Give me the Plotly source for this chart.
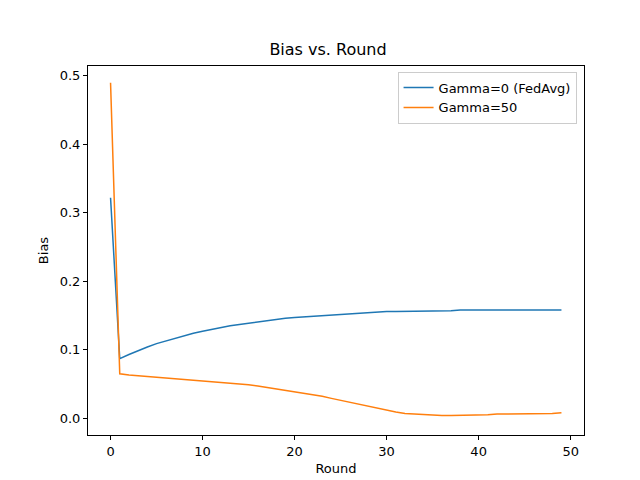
import plotly.graph_objects as go

rounds = list(range(50))
bias_fedavg = [0.322, 0.087, 0.093, 0.099, 0.104, 0.109, 0.113, 0.117, 0.121, 0.124,
               0.127, 0.130, 0.133, 0.135, 0.137, 0.139, 0.141, 0.143, 0.144, 0.146,
               0.147, 0.148, 0.149, 0.150, 0.151, 0.152, 0.153, 0.154, 0.155, 0.155,
               0.156, 0.156, 0.156, 0.157, 0.157, 0.157, 0.157, 0.157, 0.158, 0.158,
               0.158, 0.158, 0.158, 0.158, 0.158, 0.158, 0.158, 0.158, 0.158, 0.158]
bias_gamma50 = [0.490, 0.065, 0.063, 0.062, 0.061, 0.060, 0.059, 0.058, 0.057, 0.056,
                0.055, 0.054, 0.053, 0.052, 0.050, 0.049, 0.047, 0.045, 0.043, 0.041,
                0.039, 0.037, 0.034, 0.032, 0.029, 0.026, 0.023, 0.020, 0.017, 0.014,
                0.011, 0.009, 0.007, 0.006, 0.005, 0.004, 0.004, 0.004, 0.004, 0.005,
                0.005, 0.005, 0.006, 0.006, 0.006, 0.007, 0.007, 0.007, 0.007, 0.008]

fig = go.Figure()
fig.add_trace(go.Scatter(x=rounds, y=bias_fedavg, mode="lines", name="Gamma=0 (FedAvg)",
                         line=dict(color="#1f77b4", width=1.5)))
fig.add_trace(go.Scatter(x=rounds, y=bias_gamma50, mode="lines", name="Gamma=50",
                         line=dict(color="#ff7f0e", width=1.5)))

axis = dict(showgrid=False, zeroline=False, showline=True, linecolor="black", mirror=True,
            ticks="outside", ticklen=4, tickcolor="black", tickfont=dict(size=13))
fig.update_layout(
    width=640, height=480, plot_bgcolor="white", paper_bgcolor="white",
    margin=dict(l=80, r=64, t=58, b=53),
    font=dict(family="DejaVu Sans", size=13, color="black"),
    title=dict(text="Bias vs. Round", x=0.5, xanchor="center", y=0.925, font=dict(size=16)),
    xaxis=dict(axis, title=dict(text="Round", font=dict(size=13), standoff=6), range=[-2.45, 51.45],
               tickvals=[0, 10, 20, 30, 40, 50]),
    yaxis=dict(axis, title=dict(text="Bias", font=dict(size=13), standoff=8), range=[-0.0245, 0.5145],
               tickvals=[0, 0.1, 0.2, 0.3, 0.4, 0.5], tickformat=".1f"),
    legend=dict(x=0.985, y=0.985, xanchor="right", yanchor="top", bordercolor="#cccccc",
                borderwidth=1, bgcolor="white", font=dict(size=13)),
)
fig.write_html("out.html")
